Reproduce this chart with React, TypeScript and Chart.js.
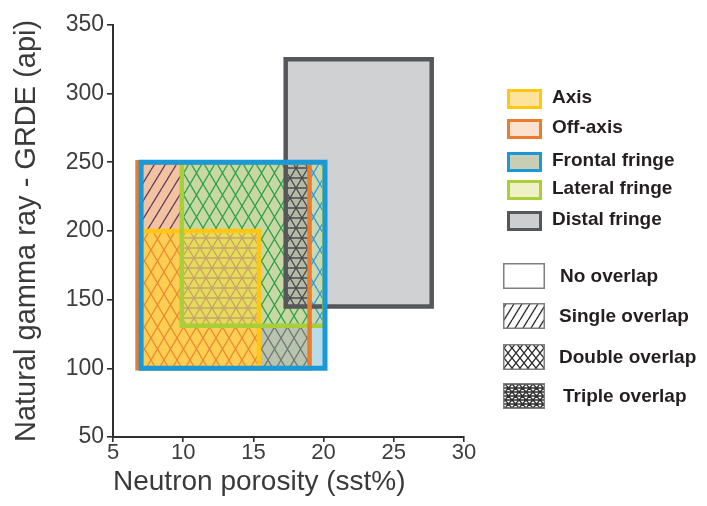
import React, { useEffect, useRef } from "react";
import { Chart, registerables } from "chart.js";

Chart.register(...registerables);

const FONT = "'Liberation Sans', Arial, Helvetica, sans-serif";

// ---- data ----
const xTickValues = [5, 10, 15, 20, 25, 30];
const yTickValues = [50, 100, 150, 200, 250, 300, 350];

const fieldNames = ["Axis", "Off-axis", "Frontal fringe", "Lateral fringe", "Distal fringe"];
const fieldPorosityMin = [7.0, 6.75, 7.0, 9.9, 17.3];
const fieldPorosityMax = [15.4, 19.0, 20.1, 20.05, 27.7];
const fieldGammaMin = [100, 100, 100, 131, 145];
const fieldGammaMax = [200, 250, 250, 250, 325];

// overlap zones (where the fields overlap, as hatched in the figure)
const zonePorosityMin = [9.9, 7.0, 7.0, 9.9, 15.4, 19.0, 19.0, 17.3];
const zonePorosityMax = [20.1, 9.9, 15.4, 15.4, 19.0, 20.1, 20.1, 19.0];
const zoneGammaMin = [131, 200, 100, 131, 100, 100, 131, 145];
const zoneGammaMax = [250, 250, 200, 200, 131, 131, 250, 250];
const zoneOverlap = ["double", "single", "double", "triple", "double", "none", "double", "triple"];

const overlapNames = ["No overlap", "Single overlap", "Double overlap", "Triple overlap"];
const overlapKinds = ["none", "single", "double", "triple"];

// ---- styles ----
const fieldBorder = ["#FFC712", "#EC7C2C", "#1B99D6", "#A8CE38", "#55575A"];
const fieldLegendFill = ["#FDE39C", "#FBE2CF", "#C9CDB3", "#EEF1C5", "#CDCED0"];
const distalFill = "#D0D1D3";
const zoneBg = ["#C9D8A3", "#F3C29F", "#FCCE52", "#E6DC5A", "#B9C3AD", "#B8DDEA", "#C6D9B3", "#B4BAA5"];
const zoneInk = ["#2AA24B", "#5B3B6C", "#EA8A33", "#C6A46A", "#6F7977", "#B8DDEA", "#3399D6", "#4B4B4B"];
// draw order of field borders: distal, axis, lateral, off-axis, frontal
const borderOrder = [4, 0, 3, 1, 2];

function makeTile(kind: string, ink: string, bg: string, w: number, h: number, lw: number) {
  const c = document.createElement("canvas");
  c.width = w;
  c.height = h;
  const g = c.getContext("2d")!;
  g.fillStyle = bg;
  g.fillRect(0, 0, w, h);
  g.strokeStyle = ink;
  g.lineWidth = lw;
  g.beginPath();
  if (kind === "single") {
    g.moveTo(-w, h); g.lineTo(0, 0);
    g.moveTo(0, h); g.lineTo(w, 0);
    g.moveTo(w, h); g.lineTo(2 * w, 0);
  } else if (kind === "double" || kind === "triple") {
    g.moveTo(0, 0); g.lineTo(w, h);
    g.moveTo(w, 0); g.lineTo(0, h);
    if (kind === "triple") {
      g.moveTo(0, 0); g.lineTo(w, 0);
      g.moveTo(0, h / 2); g.lineTo(w, h / 2);
      g.moveTo(0, h); g.lineTo(w, h);
    }
  }
  g.stroke();
  return c;
}

function tileSize(kind: string): [number, number] {
  if (kind === "single") return [11, 18];
  if (kind === "triple") return [12, 20];
  return [13, 22];
}

const legendPlugin = {
  id: "overlapLegend",
  afterDraw(chart: any) {
    const ctx = chart.ctx as CanvasRenderingContext2D;
    ctx.save();
    // field legend
    const rowY = [91, 121, 154, 182, 213];
    fieldNames.forEach((name, i) => {
      const y = rowY[i];
      ctx.fillStyle = fieldLegendFill[i];
      ctx.fillRect(499, y - 10, 35, 20);
      ctx.strokeStyle = fieldBorder[i];
      ctx.lineWidth = 3;
      ctx.strokeRect(500.5, y - 8.5, 32, 17);
      ctx.fillStyle = "#231F20";
      ctx.font = `bold 19px ${FONT}`;
      ctx.textBaseline = "middle";
      ctx.textAlign = "left";
      ctx.fillText(name, 544, y - 1);
    });
    // overlap legend
    const rowY2 = [268, 308, 349, 388];
    const textX = [552, 551, 551, 555];
    overlapNames.forEach((name, i) => {
      const y = rowY2[i];
      const kind = overlapKinds[i];
      const tile = makeTile(kind, "#2f2f2f", "#ffffff", kind === "triple" ? 7 : 8, kind === "single" ? 13 : kind === "triple" ? 8 : 10, 1.4);
      const pat = ctx.createPattern(tile, "repeat")!;
      ctx.fillStyle = pat;
      ctx.fillRect(495, y - 13, 42, 26);
      ctx.strokeStyle = "#7f7f7f";
      ctx.lineWidth = 1.5;
      ctx.strokeRect(495.75, y - 12.25, 40.5, 24.5);
      ctx.fillStyle = "#231F20";
      ctx.font = `bold 19px ${FONT}`;
      ctx.textBaseline = "middle";
      ctx.textAlign = "left";
      ctx.fillText(name, textX[i], y + 1);
    });
    ctx.restore();
  },
};

export default function App() {
  const ref = useRef<HTMLCanvasElement>(null);

  useEffect(() => {
    const canvas = ref.current!;
    const ctx = canvas.getContext("2d")!;

    const openRect = (x0: number, x1: number, y0: number, y1: number) => [
      { x: x0, y: y0 }, { x: x0, y: y1 }, { x: x1, y: y1 }, { x: x1, y: y0 },
    ];
    const closedRect = (x0: number, x1: number, y0: number, y1: number) => [
      { x: x0, y: y0 }, { x: x0, y: y1 }, { x: x1, y: y1 }, { x: x1, y: y0 }, { x: x0, y: y0 },
    ];

    const base = {
      showLine: true,
      pointRadius: 0,
      pointHoverRadius: 0,
      tension: 0,
    };

    const seq: any[] = [];
    // distal fringe fill
    seq.push({
      ...base,
      label: "Distal fill",
      data: openRect(fieldPorosityMin[4], fieldPorosityMax[4], fieldGammaMin[4], fieldGammaMax[4]),
      backgroundColor: distalFill,
      borderWidth: 0,
      borderColor: "rgba(0,0,0,0)",
      fill: "shape",
    });
    // overlap zones
    zonePorosityMin.forEach((_, i) => {
      const kind = zoneOverlap[i];
      const [w, h] = tileSize(kind);
      const tile = makeTile(kind, zoneInk[i], zoneBg[i], w, h, 1.3);
      seq.push({
        ...base,
        label: "zone " + i,
        data: openRect(zonePorosityMin[i], zonePorosityMax[i], zoneGammaMin[i], zoneGammaMax[i]),
        backgroundColor: ctx.createPattern(tile, "repeat"),
        borderWidth: 0,
        borderColor: "rgba(0,0,0,0)",
        fill: "shape",
      });
    });
    // field outlines
    borderOrder.forEach((i) => {
      seq.push({
        ...base,
        label: fieldNames[i],
        data: closedRect(fieldPorosityMin[i], fieldPorosityMax[i], fieldGammaMin[i], fieldGammaMax[i]),
        borderColor: fieldBorder[i],
        borderWidth: i === 2 ? 5 : 4.5,
        borderJoinStyle: "miter",
        borderCapStyle: "square",
        fill: false,
        backgroundColor: "rgba(0,0,0,0)",
      });
    });
    const n = seq.length;
    seq.forEach((d, k) => (d.order = n - k));

    const chart = new Chart(canvas, {
      type: "scatter",
      data: { datasets: seq },
      options: {
        animation: false,
        responsive: false,
        events: [],
        layout: { padding: { top: 13, right: 235, left: 0, bottom: 0 } },
        plugins: {
          legend: { display: false },
          tooltip: { enabled: false },
        },
        scales: {
          x: {
            type: "linear",
            min: 5,
            max: 30,
            afterBuildTicks: (s: any) => {
              s.ticks = xTickValues.map((value) => ({ value }));
            },
            afterFit: (s: any) => {
              s.height = 61;
            },
            ticks: {
              autoSkip: false,
              maxRotation: 0,
              padding: -2,
              color: "#3d3d3d",
              font: { family: FONT, size: 22 },
            },
            grid: {
              display: true,
              drawOnChartArea: false,
              drawTicks: true,
              tickLength: 5,
              color: "#2e2e2e",
              lineWidth: 1.6,
            },
            border: { display: true, color: "#2e2e2e", width: 2 },
            title: {
              display: true,
              text: "Neutron porosity (sst%)",
              align: "start",
              color: "#3a3a3a",
              font: { family: FONT, size: 28, lineHeight: 1 },
              padding: { top: 0, bottom: 2 },
            },
          },
          y: {
            type: "linear",
            min: 50,
            max: 350,
            afterBuildTicks: (s: any) => {
              s.ticks = yTickValues.map((value) => ({ value }));
            },
            afterFit: (s: any) => {
              s.width = 105;
            },
            ticks: {
              autoSkip: false,
              padding: 3,
              color: "#3d3d3d",
              font: { family: FONT, size: 23 },
            },
            grid: {
              display: true,
              drawOnChartArea: false,
              drawTicks: true,
              tickLength: 6,
              color: "#2e2e2e",
              lineWidth: 1.6,
            },
            border: { display: true, color: "#2e2e2e", width: 2 },
            title: {
              display: true,
              text: "Natural gamma ray - GRDE (api)",
              color: "#3a3a3a",
              font: { family: FONT, size: 29, lineHeight: 1 },
              padding: { top: 4, bottom: 0 },
            },
          },
        },
      },
      plugins: [legendPlugin],
    } as any);

    return () => chart.destroy();
  }, []);

  return (
    <div style={{ width: 691, height: 490 }}>
      <canvas ref={ref} width={691} height={490} style={{ display: "block" }} />
    </div>
  );
}
